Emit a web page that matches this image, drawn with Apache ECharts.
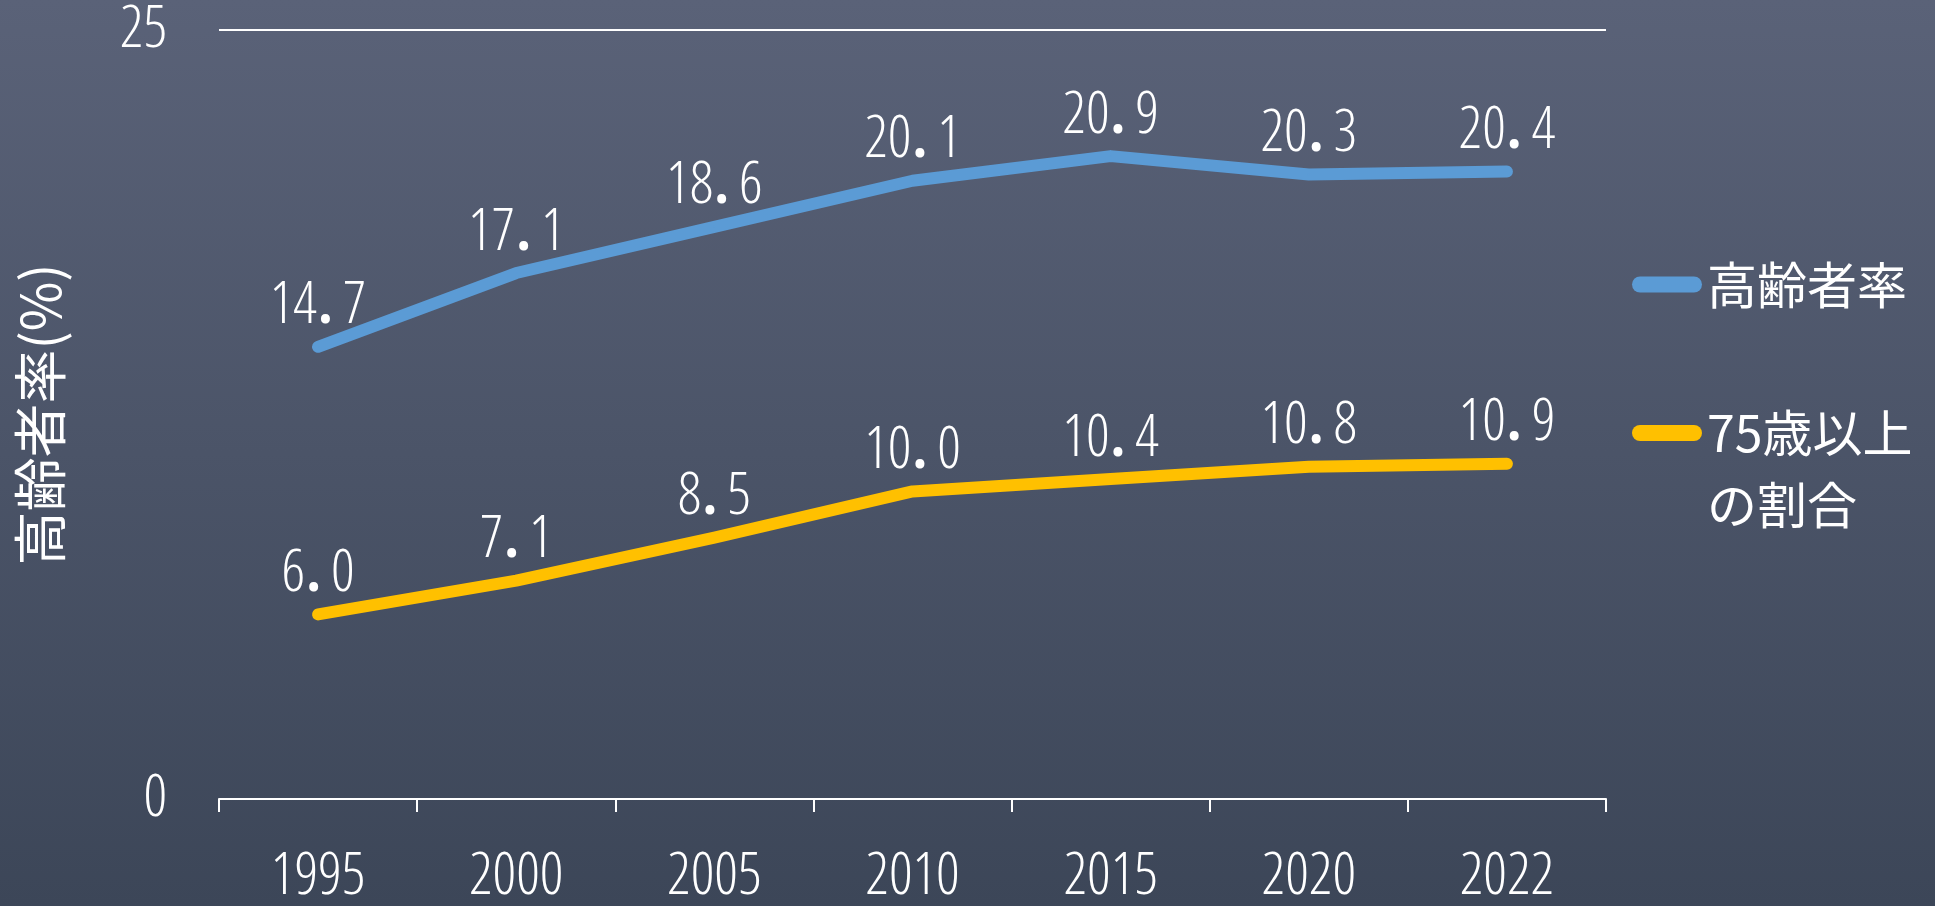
<!DOCTYPE html>
<html>
<head>
<meta charset="utf-8">
<script src="https://cdn.jsdelivr.net/npm/echarts@6/dist/echarts.min.js"></script>
<style>
html,body{margin:0;padding:0;}
#c{width:1935px;height:906px;}
</style>
</head>
<body>
<div id="c"></div>
<script>
const categories = ['1995', '2000', '2005', '2010', '2015', '2020', '2022'];
const agingRate = [14.7, 17.1, 18.6, 20.1, 20.9, 20.3, 20.4];
const over75Rate = [6.0, 7.1, 8.5, 10.0, 10.4, 10.8, 10.9];
const seriesNames = ['高齢者率', '75歳以上の割合'];
const yAxisName = '高齢者率(%)';

const NUM_FONT = '"Open Sans", "DejaVu Sans Condensed", sans-serif';
const NUM_STRETCH = 'condensed';
const NUM_WEIGHT = 350;
const CJK_FONT = '"Noto Sans CJK JP", "Noto Sans", sans-serif';

const chart = echarts.init(document.getElementById('c'));

function labelFmt(p) {
  const s = Number(p.value).toFixed(1).split('.');
  return '{n|' + s[0] + '}{d|.}{n|' + s[1] + '}';
}
const numText = { color: '#ffffff', fontFamily: NUM_FONT, fontStyle: NUM_STRETCH, fontWeight: NUM_WEIGHT, fontSize: 58 };
const labelRich = {
  n: numText,
  d: Object.assign({}, numText, { fontWeight: 'bold', padding: [0, 10, 0, 1] })
};

function pill(w, h) {
  const r = h / 2;
  return 'path://M' + r + ',0 H' + (w - r) + ' A' + r + ',' + r + ' 0 0 1 ' + (w - r) + ',' + h +
    ' H' + r + ' A' + r + ',' + r + ' 0 0 1 ' + r + ',0 Z';
}

const option = {
  backgroundColor: new echarts.graphic.LinearGradient(0, 0, 0, 1, [
    { offset: 0, color: '#5a6278' },
    { offset: 1, color: '#3c4658' }
  ]),
  animation: false,
  grid: { left: 219, right: 329, top: 30, bottom: 99, containLabel: false },
  legend: [
    {
      data: [seriesNames[0]],
      left: 1627, top: 243,
      itemWidth: 70, itemHeight: 16,
      icon: pill(70, 16),
      textStyle: { color: '#ffffff', fontFamily: CJK_FONT, fontSize: 50, lineHeight: 73 }
    },
    {
      data: [seriesNames[1]],
      left: 1627, top: 320,
      itemWidth: 70, itemHeight: 16,
      icon: pill(70, 16),
      formatter: function (n) { return n === '75歳以上の割合' ? '\n75歳以上\nの割合' : n; },
      textStyle: { color: '#ffffff', fontFamily: CJK_FONT, fontSize: 50, lineHeight: 72 }
    }
  ],
  xAxis: {
    type: 'category',
    data: categories,
    boundaryGap: true,
    axisLine: { show: true, lineStyle: { color: '#ffffff', width: 2 } },
    axisTick: { show: true, length: 13, lineStyle: { color: '#ffffff', width: 2 } },
    axisLabel: Object.assign({}, numText, { margin: 49 }),
    splitLine: { show: false }
  },
  yAxis: {
    type: 'value',
    min: 0, max: 25, interval: 25,
    name: yAxisName,
    nameLocation: 'middle',
    nameGap: 152,
    nameRotate: 90,
    nameTextStyle: { color: '#ffffff', fontFamily: CJK_FONT, fontSize: 54 },
    axisLine: { show: false },
    axisTick: { show: false },
    axisLabel: Object.assign({}, numText, { margin: 52 }),
    splitLine: { show: true, lineStyle: { color: '#ffffff', width: 2 } }
  },
  series: [
    {
      name: seriesNames[0],
      type: 'line',
      data: agingRate,
      symbol: 'circle', symbolSize: 2,
      itemStyle: { color: '#5b9bd5' },
      lineStyle: { color: '#5b9bd5', width: 12, cap: 'round', join: 'round' },
      label: { show: true, position: 'top', distance: 10, formatter: labelFmt, rich: labelRich }
    },
    {
      name: seriesNames[1],
      type: 'line',
      data: over75Rate,
      symbol: 'circle', symbolSize: 2,
      itemStyle: { color: '#ffc000' },
      lineStyle: { color: '#ffc000', width: 12, cap: 'round', join: 'round' },
      label: { show: true, position: 'top', distance: 10, formatter: labelFmt, rich: labelRich }
    }
  ]
};
chart.setOption(option);
</script>
</body>
</html>
